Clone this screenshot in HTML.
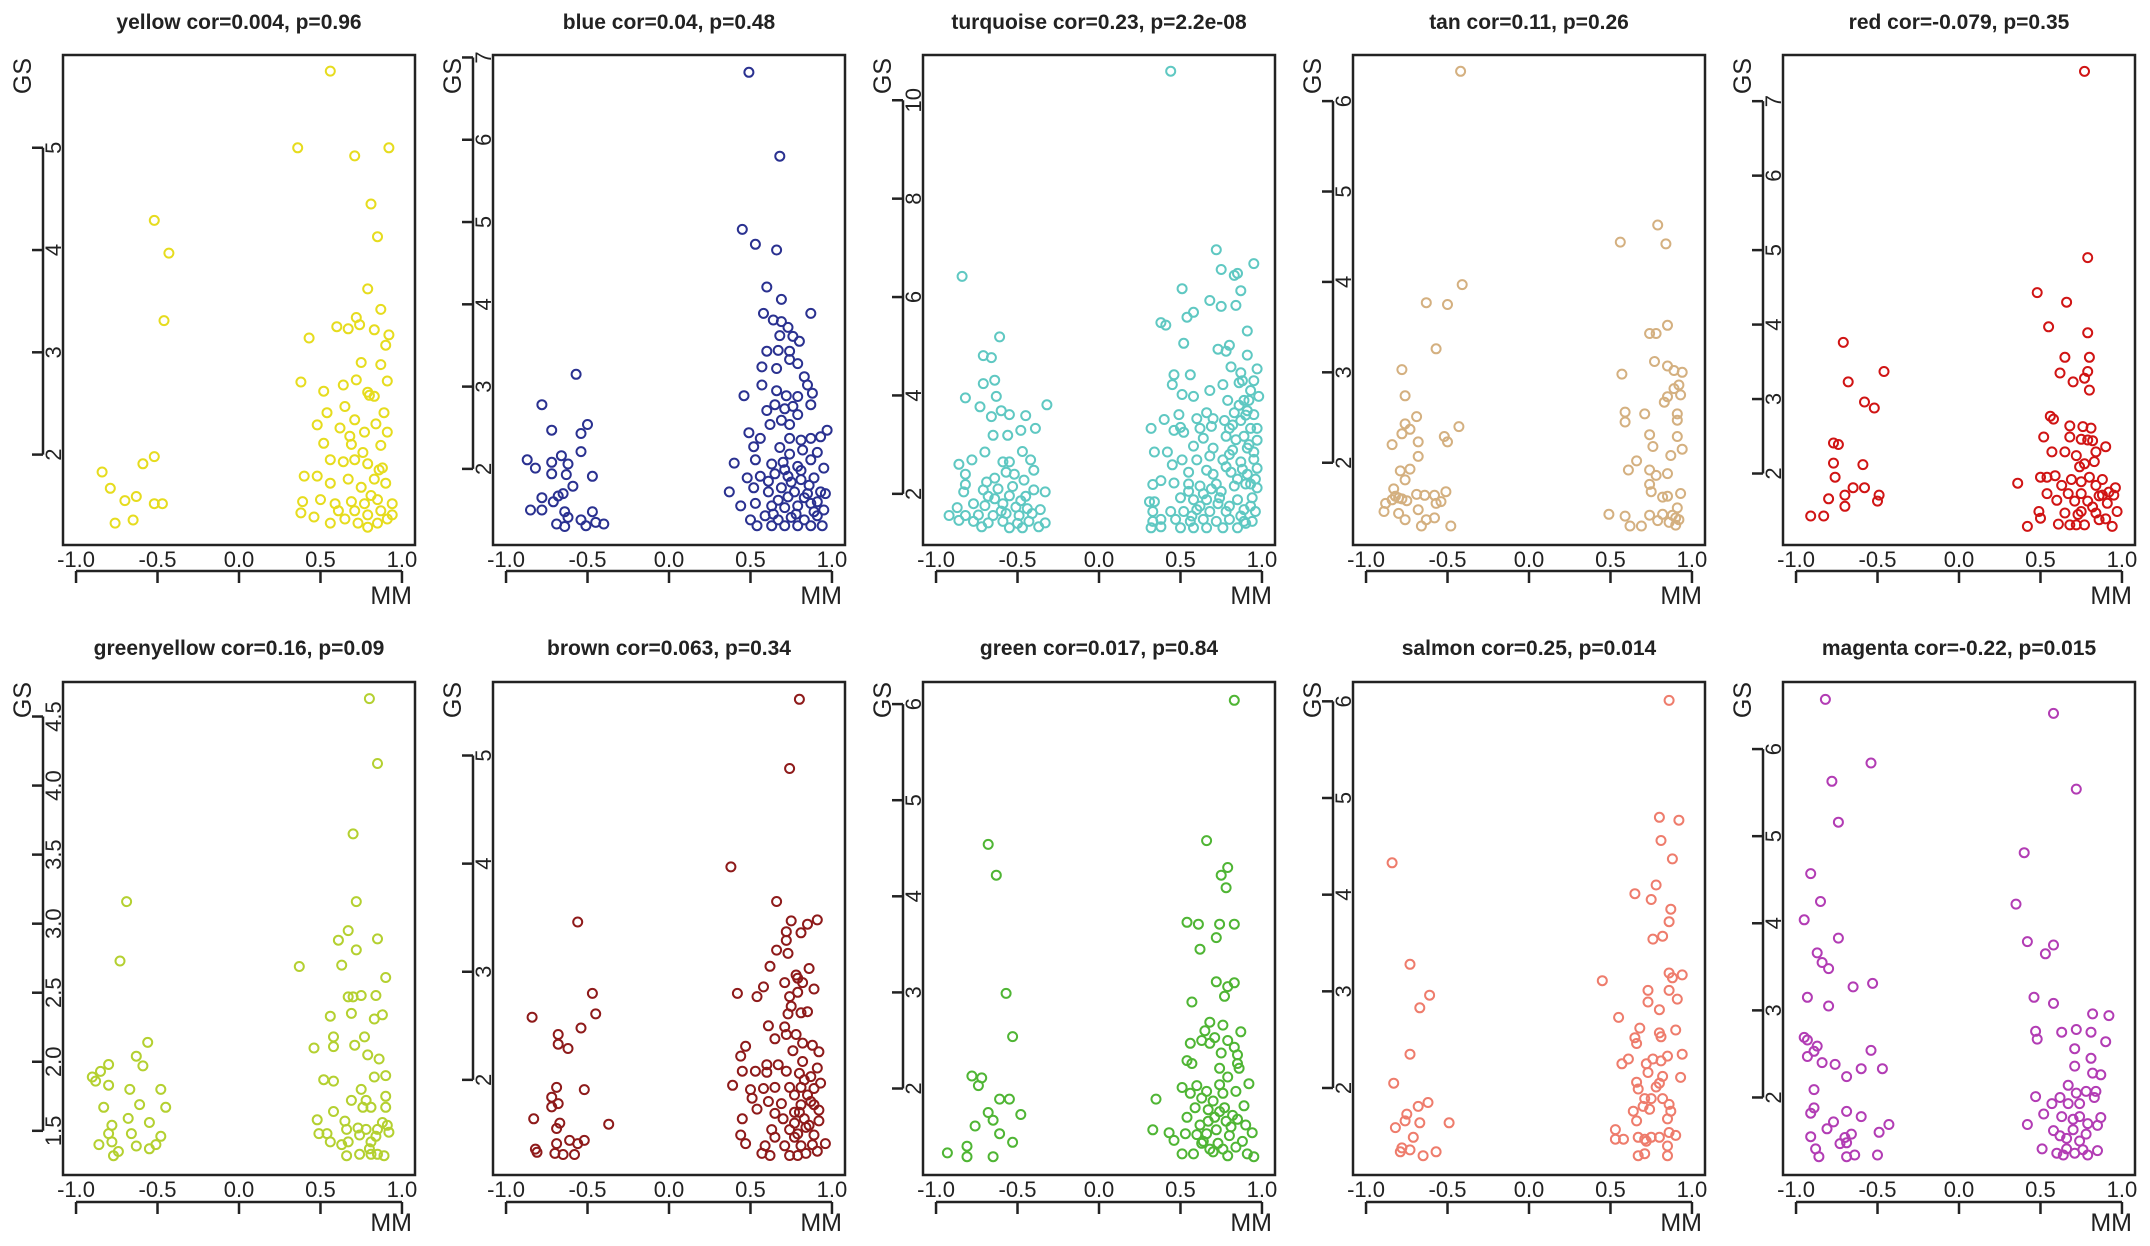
<!DOCTYPE html>
<html><head><meta charset="utf-8"><style>
html,body{margin:0;padding:0;background:#fff;}
svg{display:block;font-family:"Liberation Sans",Arial,sans-serif;}
</style></head><body>
<svg id="chart" width="2150" height="1246" viewBox="0 0 2150 1246" xmlns="http://www.w3.org/2000/svg"></svg>
<script>
// ---- data ----
const panelNames = ["yellow","blue","turquoise","tan","red","greenyellow","brown","green","salmon","magenta"];
const panelTitles = ["yellow cor=0.004, p=0.96","blue cor=0.04, p=0.48","turquoise cor=0.23, p=2.2e-08","tan cor=0.11, p=0.26","red cor=-0.079, p=0.35","greenyellow cor=0.16, p=0.09","brown cor=0.063, p=0.34","green cor=0.017, p=0.84","salmon cor=0.25, p=0.014","magenta cor=-0.22, p=0.015"];
const panelColors = ["#e6dc1e","#2a3190","#5fc8c2","#d4b080","#d01414","#b4d030","#8e1a1a","#4fb534","#ee7c6c","#b23cb4"];
const yLimits = [[1.116,5.907],[1.075,7.03],[0.96,10.92],[1.09,6.51],[1.04,7.62],[1.18,4.75],[1.12,5.68],[1.10,6.23],[1.10,6.2],[1.11,6.77]];
const yTicks = [[2,3,4,5],[2,3,4,5,6,7],[2,4,6,8,10],[2,3,4,5,6],[2,3,4,5,6,7],[1.5,2.0,2.5,3.0,3.5,4.0,4.5],[2,3,4,5],[2,3,4,5,6],[2,3,4,5,6],[2,3,4,5,6]];
const yTickLabels = [["2","3","4","5"],["2","3","4","5","6","7"],["2","4","6","8","10"],["2","3","4","5","6"],["2","3","4","5","6","7"],["1.5","2.0","2.5","3.0","3.5","4.0","4.5"],["2","3","4","5"],["2","3","4","5","6"],["2","3","4","5","6"],["2","3","4","5","6"]];
const xTicks = [-1,-0.5,0,0.5,1];
const xTickLabels = ["-1.0","-0.5","0.0","0.5","1.0"];

const yellowPts = [[0.56,5.75],[0.36,5.0],[0.71,4.92],[0.92,5.0],[0.81,4.45],[0.85,4.13],[0.79,3.62],[0.87,3.42],[-0.52,4.29],[-0.43,3.97],[-0.46,3.31],[0.6,3.25],[0.72,3.34],[0.74,3.27],[0.67,3.23],[0.83,3.22],[0.92,3.17],[0.43,3.14],[0.9,3.07],[0.75,2.9],[0.87,2.88],[0.38,2.71],[0.52,2.62],[0.64,2.68],[0.72,2.73],[0.79,2.61],[0.83,2.57],[0.91,2.72],[0.54,2.41],[0.65,2.47],[0.71,2.34],[0.89,2.41],[0.48,2.29],[0.62,2.26],[0.68,2.18],[0.77,2.22],[0.91,2.22],[0.52,2.11],[0.69,2.1],[0.87,2.09],[0.56,1.95],[0.64,1.93],[0.71,1.95],[0.79,1.91],[0.88,1.87],[0.4,1.79],[0.48,1.79],[0.56,1.72],[0.67,1.76],[0.75,1.68],[0.83,1.76],[0.9,1.72],[0.39,1.54],[0.5,1.56],[0.59,1.52],[0.69,1.54],[0.77,1.52],[0.85,1.56],[0.94,1.52],[0.38,1.43],[0.46,1.39],[0.56,1.33],[0.65,1.37],[0.73,1.33],[0.79,1.41],[0.85,1.33],[0.91,1.37],[0.94,1.41],[0.79,1.29],[0.71,1.45],[0.61,1.45],[0.87,1.45],[0.81,1.6],[0.86,1.85],[0.76,2.02],[0.84,2.3],[0.8,2.58],[-0.84,1.83],[-0.79,1.67],[-0.7,1.55],[-0.63,1.59],[-0.59,1.91],[-0.52,1.98],[-0.52,1.52],[-0.47,1.52],[-0.76,1.33],[-0.65,1.36]];
const bluePts = [[0.49,6.82],[0.68,5.8],[0.45,4.91],[0.53,4.73],[0.66,4.66],[0.6,4.21],[0.69,4.06],[0.58,3.89],[0.87,3.89],[0.64,3.81],[0.69,3.79],[0.73,3.72],[0.68,3.62],[0.76,3.61],[0.8,3.55],[0.6,3.43],[0.67,3.44],[0.74,3.43],[0.74,3.33],[0.79,3.28],[0.57,3.24],[0.66,3.22],[0.83,3.12],[0.57,3.02],[0.85,3.02],[0.46,2.89],[0.66,2.95],[0.72,2.89],[0.79,2.88],[0.88,2.92],[0.65,2.78],[0.71,2.73],[0.76,2.76],[0.87,2.78],[0.6,2.71],[0.79,2.66],[0.62,2.54],[0.69,2.59],[0.74,2.54],[0.49,2.44],[0.97,2.47],[0.56,2.37],[0.74,2.37],[0.81,2.35],[0.87,2.37],[0.93,2.39],[0.52,2.27],[0.68,2.26],[0.74,2.18],[0.82,2.23],[0.91,2.2],[0.4,2.07],[0.53,2.11],[0.63,2.06],[0.7,2.08],[0.79,2.03],[0.87,2.11],[0.95,2.01],[0.48,1.89],[0.56,1.91],[0.65,1.94],[0.73,1.91],[0.81,1.87],[0.89,1.89],[0.37,1.72],[0.52,1.77],[0.61,1.72],[0.69,1.77],[0.77,1.72],[0.85,1.7],[0.93,1.72],[0.96,1.7],[0.44,1.55],[0.53,1.58],[0.63,1.55],[0.71,1.53],[0.79,1.55],[0.87,1.58],[0.95,1.5],[0.5,1.38],[0.59,1.43],[0.67,1.38],[0.75,1.41],[0.83,1.38],[0.91,1.43],[0.54,1.31],[0.63,1.31],[0.71,1.31],[0.79,1.31],[0.87,1.31],[0.94,1.31],[0.67,1.62],[0.75,1.84],[0.83,1.65],[0.89,1.48],[0.71,1.99],[0.61,1.85],[0.78,1.45],[0.86,1.8],[0.64,1.45],[0.73,1.66],[0.81,1.98],[0.91,1.6],[-0.87,2.11],[-0.82,2.01],[-0.78,2.78],[-0.72,2.47],[-0.72,2.08],[-0.72,1.94],[-0.66,2.16],[-0.62,2.06],[-0.63,1.93],[-0.57,3.15],[-0.5,2.54],[-0.54,2.43],[-0.54,2.21],[-0.47,1.91],[-0.59,1.79],[-0.78,1.65],[-0.85,1.5],[-0.78,1.5],[-0.71,1.6],[-0.68,1.67],[-0.65,1.7],[-0.64,1.48],[-0.62,1.41],[-0.69,1.33],[-0.64,1.3],[-0.54,1.38],[-0.47,1.48],[-0.51,1.31],[-0.45,1.35],[-0.4,1.33]];
const turquoisePts = [[0.44,10.59],[-0.84,6.42],[0.72,6.96],[0.95,6.68],[0.75,6.56],[0.83,6.44],[0.85,6.48],[0.51,6.17],[0.87,6.13],[0.68,5.93],[0.75,5.81],[0.84,5.83],[0.58,5.69],[0.54,5.59],[0.38,5.48],[0.41,5.43],[0.91,5.31],[0.52,5.06],[0.73,4.94],[0.8,5.02],[0.78,4.9],[0.91,4.82],[0.81,4.58],[0.46,4.42],[0.56,4.42],[0.87,4.46],[0.97,4.54],[0.95,4.3],[0.45,4.22],[0.76,4.22],[0.86,4.26],[0.51,4.02],[0.58,3.98],[0.68,4.1],[0.98,3.98],[0.79,3.9],[0.89,3.9],[0.66,3.65],[0.83,3.65],[0.91,3.69],[0.95,3.61],[0.49,3.61],[0.6,3.53],[0.7,3.53],[0.77,3.49],[0.87,3.49],[0.32,3.33],[0.4,3.51],[0.5,3.35],[0.62,3.33],[0.69,3.37],[0.8,3.33],[0.93,3.33],[0.97,3.33],[0.46,3.29],[0.52,3.25],[0.78,3.17],[0.89,3.17],[0.64,3.13],[0.97,3.09],[0.34,2.85],[0.42,2.85],[0.58,2.97],[0.7,2.93],[0.82,2.89],[0.91,2.93],[0.95,2.85],[0.51,2.69],[0.6,2.69],[0.68,2.77],[0.76,2.69],[0.87,2.65],[0.97,2.52],[0.45,2.59],[0.55,2.44],[0.66,2.48],[0.81,2.44],[0.91,2.4],[0.33,2.19],[0.38,2.27],[0.46,2.22],[0.55,2.2],[0.62,2.16],[0.72,2.2],[0.83,2.16],[0.93,2.2],[0.97,2.12],[0.31,1.84],[0.34,1.84],[0.5,1.92],[0.58,1.88],[0.66,1.88],[0.74,1.92],[0.85,1.88],[0.94,1.92],[0.33,1.64],[0.44,1.64],[0.52,1.64],[0.6,1.68],[0.68,1.64],[0.78,1.64],[0.89,1.68],[0.96,1.64],[0.33,1.44],[0.38,1.48],[0.47,1.48],[0.56,1.44],[0.64,1.48],[0.72,1.44],[0.8,1.48],[0.89,1.44],[0.94,1.44],[0.32,1.31],[0.38,1.33],[0.5,1.31],[0.58,1.31],[0.66,1.31],[0.76,1.31],[0.85,1.31],[0.9,3.6],[0.92,3.0],[0.88,2.5],[0.93,4.1],[0.86,3.8],[0.84,3.1],[0.9,2.2],[0.93,1.75],[0.87,1.55],[0.8,1.75],[0.75,2.05],[0.7,2.4],[0.64,2.0],[0.57,1.55],[0.8,2.8],[0.85,2.3],[0.95,2.7],[0.92,3.9],[0.88,4.3],[0.82,3.4],[0.78,2.55],[0.73,1.8],[0.69,2.1],[0.62,1.75],[0.55,2.05],[0.96,2.3],[0.9,1.4],[-0.61,5.19],[-0.71,4.81],[-0.66,4.77],[-0.64,4.31],[-0.71,4.24],[-0.82,3.95],[-0.63,3.98],[-0.73,3.77],[-0.32,3.81],[-0.6,3.69],[-0.55,3.61],[-0.45,3.59],[-0.66,3.57],[-0.39,3.33],[-0.48,3.29],[-0.65,3.19],[-0.56,3.19],[-0.7,2.85],[-0.47,2.86],[-0.86,2.6],[-0.78,2.69],[-0.59,2.65],[-0.55,2.65],[-0.42,2.69],[-0.4,2.48],[-0.82,2.4],[-0.57,2.44],[-0.46,2.28],[-0.82,2.19],[-0.69,2.24],[-0.64,2.32],[-0.71,2.08],[-0.83,2.04],[-0.4,2.08],[-0.33,2.04],[-0.55,1.96],[-0.64,1.9],[-0.48,1.86],[-0.77,1.8],[-0.7,1.76],[-0.59,1.8],[-0.51,1.73],[-0.87,1.72],[-0.36,1.68],[-0.92,1.56],[-0.82,1.56],[-0.74,1.57],[-0.65,1.56],[-0.57,1.6],[-0.49,1.56],[-0.41,1.6],[-0.86,1.46],[-0.77,1.44],[-0.68,1.41],[-0.59,1.44],[-0.5,1.4],[-0.43,1.44],[-0.33,1.41],[-0.72,1.33],[-0.55,1.31],[-0.47,1.31],[-0.37,1.33],[-0.62,2.1],[-0.53,2.15],[-0.45,1.95],[-0.6,1.65],[-0.68,1.95],[-0.52,2.4],[-0.44,1.7]];
const tanPts = [[-0.42,6.33],[0.56,4.44],[0.79,4.63],[0.84,4.42],[-0.41,3.97],[-0.63,3.77],[-0.5,3.75],[0.85,3.52],[0.74,3.43],[0.78,3.43],[-0.57,3.26],[-0.78,3.03],[0.77,3.12],[0.85,3.07],[0.57,2.98],[0.89,3.02],[0.94,3.0],[-0.76,2.74],[0.92,2.86],[0.89,2.82],[0.93,2.75],[0.85,2.73],[0.83,2.67],[0.59,2.56],[0.71,2.54],[0.59,2.45],[0.91,2.54],[0.91,2.47],[-0.69,2.51],[-0.76,2.43],[-0.73,2.37],[-0.43,2.4],[-0.78,2.32],[-0.52,2.29],[-0.5,2.23],[-0.68,2.23],[-0.84,2.2],[0.74,2.31],[0.91,2.29],[0.76,2.18],[0.94,2.15],[0.87,2.08],[-0.68,2.07],[0.66,2.02],[0.61,1.92],[0.74,1.92],[0.78,1.86],[0.85,1.88],[-0.73,1.93],[-0.79,1.91],[-0.76,1.81],[-0.83,1.71],[0.74,1.76],[0.75,1.68],[0.82,1.62],[0.85,1.63],[0.93,1.66],[-0.69,1.65],[-0.64,1.64],[-0.58,1.64],[-0.51,1.68],[-0.54,1.57],[-0.57,1.55],[-0.75,1.58],[-0.8,1.61],[-0.84,1.59],[-0.88,1.55],[-0.89,1.46],[-0.68,1.48],[-0.8,1.44],[-0.76,1.37],[-0.63,1.37],[-0.58,1.39],[-0.66,1.3],[-0.48,1.3],[0.49,1.43],[0.59,1.41],[0.62,1.3],[0.69,1.3],[0.74,1.42],[0.79,1.36],[0.82,1.43],[0.86,1.34],[0.9,1.39],[0.91,1.5],[0.9,1.31],[0.88,1.42],[0.92,1.37],[-0.82,1.63],[-0.78,1.6]];
const redPts = [[0.77,7.4],[0.79,4.9],[0.48,4.43],[0.66,4.3],[0.55,3.97],[0.79,3.89],[-0.71,3.76],[0.65,3.56],[0.8,3.56],[-0.46,3.37],[0.62,3.35],[0.79,3.37],[0.77,3.28],[-0.68,3.23],[0.7,3.23],[0.8,3.12],[-0.58,2.96],[-0.52,2.88],[0.56,2.77],[0.58,2.73],[0.68,2.64],[0.76,2.63],[0.81,2.61],[0.52,2.49],[0.68,2.49],[0.75,2.46],[0.79,2.45],[0.82,2.44],[-0.77,2.41],[-0.74,2.39],[0.57,2.29],[0.65,2.29],[0.72,2.24],[0.84,2.29],[0.9,2.36],[0.77,2.13],[-0.77,2.14],[-0.59,2.12],[0.74,2.09],[0.83,2.16],[-0.76,1.95],[0.5,1.95],[0.54,1.95],[0.59,1.97],[0.69,1.92],[0.75,1.89],[0.88,1.92],[0.36,1.87],[0.63,1.84],[0.84,1.84],[0.96,1.81],[-0.65,1.81],[-0.58,1.81],[0.54,1.73],[0.67,1.73],[0.75,1.73],[0.88,1.71],[0.95,1.71],[-0.7,1.71],[-0.49,1.71],[-0.8,1.66],[0.6,1.64],[0.71,1.63],[0.79,1.63],[0.91,1.6],[-0.5,1.63],[-0.7,1.56],[0.49,1.49],[0.65,1.47],[0.75,1.49],[0.84,1.47],[0.97,1.49],[-0.91,1.43],[-0.83,1.43],[0.5,1.4],[0.61,1.32],[0.68,1.31],[0.72,1.31],[0.77,1.31],[0.94,1.29],[0.42,1.29],[0.86,1.38],[0.9,1.39],[0.82,1.55],[0.73,1.45],[0.86,1.7],[0.8,1.95],[0.92,1.75]];
const greenyellowPts = [[0.8,4.63],[0.85,4.16],[0.7,3.65],[0.72,3.16],[-0.69,3.16],[-0.73,2.73],[0.67,2.95],[0.61,2.88],[0.85,2.89],[0.72,2.81],[0.63,2.7],[0.37,2.69],[0.9,2.61],[0.67,2.47],[0.7,2.47],[0.75,2.48],[0.84,2.48],[0.56,2.33],[0.69,2.35],[0.83,2.31],[0.88,2.34],[0.58,2.18],[0.77,2.18],[-0.56,2.14],[0.58,2.11],[0.46,2.1],[0.71,2.12],[-0.63,2.04],[0.79,2.05],[0.86,2.02],[-0.59,1.97],[-0.8,1.98],[-0.85,1.93],[-0.9,1.89],[-0.88,1.86],[-0.8,1.83],[0.52,1.87],[0.58,1.86],[0.83,1.89],[0.9,1.9],[-0.67,1.8],[-0.48,1.8],[0.75,1.8],[0.69,1.72],[0.78,1.72],[0.9,1.75],[-0.61,1.69],[-0.83,1.67],[-0.45,1.67],[0.76,1.67],[0.81,1.67],[0.9,1.67],[0.58,1.64],[-0.68,1.59],[-0.55,1.56],[-0.78,1.54],[0.48,1.58],[0.65,1.57],[0.73,1.52],[0.78,1.51],[0.85,1.51],[0.88,1.56],[0.91,1.54],[-0.8,1.48],[-0.66,1.48],[-0.48,1.46],[0.49,1.48],[0.54,1.48],[0.66,1.51],[0.92,1.49],[0.74,1.47],[0.84,1.46],[-0.86,1.4],[-0.78,1.42],[-0.63,1.39],[-0.55,1.37],[-0.51,1.4],[0.56,1.42],[0.63,1.4],[0.67,1.42],[0.81,1.42],[-0.77,1.32],[-0.74,1.35],[0.66,1.32],[0.74,1.33],[0.81,1.33],[0.85,1.33],[0.89,1.32],[0.8,1.37]];
const brownPts = [[0.8,5.52],[0.74,4.88],[0.38,3.97],[0.66,3.65],[-0.56,3.46],[0.75,3.47],[0.85,3.44],[0.91,3.48],[0.72,3.37],[0.81,3.36],[0.72,3.29],[0.66,3.2],[0.73,3.17],[0.62,3.05],[0.86,3.03],[0.78,2.97],[0.79,2.94],[0.71,2.9],[0.82,2.9],[0.58,2.86],[0.89,2.84],[0.42,2.8],[-0.47,2.8],[0.54,2.77],[0.74,2.77],[0.79,2.81],[0.75,2.68],[0.73,2.61],[0.81,2.62],[0.85,2.63],[-0.45,2.61],[-0.84,2.58],[0.61,2.5],[-0.54,2.48],[0.71,2.49],[0.65,2.38],[0.72,2.42],[0.78,2.42],[-0.68,2.42],[-0.68,2.33],[-0.62,2.29],[0.47,2.31],[0.82,2.34],[0.88,2.32],[0.76,2.27],[0.44,2.22],[0.92,2.26],[0.6,2.14],[0.67,2.14],[0.82,2.17],[0.45,2.08],[0.53,2.08],[0.6,2.07],[0.72,2.08],[0.8,2.06],[0.91,2.11],[0.87,2.03],[0.39,1.95],[0.93,1.97],[-0.69,1.93],[-0.52,1.91],[0.58,1.92],[0.65,1.93],[0.74,1.93],[0.81,1.93],[0.89,1.92],[0.5,1.91],[0.77,1.86],[0.85,1.86],[-0.72,1.84],[0.51,1.83],[0.61,1.8],[0.69,1.78],[0.81,1.77],[0.89,1.77],[-0.68,1.78],[-0.72,1.75],[0.54,1.73],[0.65,1.69],[0.77,1.7],[0.92,1.72],[-0.83,1.64],[0.45,1.64],[0.7,1.64],[0.83,1.64],[0.92,1.62],[-0.67,1.6],[-0.37,1.59],[-0.69,1.55],[0.63,1.54],[0.74,1.54],[0.84,1.56],[0.44,1.49],[0.65,1.47],[0.77,1.47],[0.89,1.49],[-0.61,1.44],[-0.52,1.44],[-0.56,1.41],[-0.69,1.41],[0.47,1.41],[0.59,1.39],[0.71,1.39],[0.81,1.39],[0.96,1.41],[-0.82,1.36],[-0.81,1.33],[-0.7,1.32],[-0.65,1.31],[-0.58,1.31],[0.57,1.32],[0.62,1.3],[0.74,1.3],[0.84,1.32],[0.91,1.34],[0.79,1.5],[0.86,1.58],[0.8,1.7],[0.87,1.8],[0.83,2.0],[0.77,1.6],[0.88,1.4],[0.79,1.3]];
const greenPts = [[0.83,6.04],[0.66,4.58],[-0.68,4.54],[-0.63,4.22],[0.79,4.3],[0.75,4.22],[0.78,4.09],[0.54,3.73],[0.61,3.71],[0.74,3.71],[0.83,3.71],[0.72,3.57],[0.62,3.45],[0.72,3.11],[0.83,3.1],[0.79,3.06],[0.77,2.96],[-0.57,2.99],[0.57,2.9],[0.68,2.69],[0.76,2.66],[0.87,2.59],[0.65,2.6],[-0.53,2.54],[0.71,2.53],[0.63,2.5],[0.79,2.5],[0.56,2.47],[0.68,2.47],[0.83,2.43],[0.75,2.37],[0.85,2.35],[0.54,2.29],[0.57,2.26],[0.85,2.26],[0.74,2.21],[0.86,2.21],[-0.78,2.13],[-0.72,2.11],[-0.74,2.03],[0.79,2.12],[0.74,2.04],[0.92,2.05],[0.51,2.01],[0.6,2.03],[0.84,1.97],[0.56,1.95],[0.66,1.97],[0.76,1.95],[0.35,1.89],[-0.61,1.89],[-0.55,1.89],[0.63,1.9],[0.7,1.87],[0.89,1.82],[0.59,1.8],[0.67,1.78],[-0.68,1.75],[-0.48,1.73],[0.74,1.76],[0.82,1.72],[0.54,1.7],[-0.65,1.67],[0.67,1.66],[0.78,1.66],[0.85,1.68],[-0.76,1.61],[0.62,1.62],[0.9,1.62],[0.72,1.57],[0.33,1.57],[0.43,1.54],[0.53,1.53],[0.6,1.52],[0.66,1.53],[0.8,1.51],[0.94,1.54],[-0.61,1.53],[0.46,1.46],[0.63,1.43],[0.73,1.43],[0.88,1.45],[-0.53,1.44],[-0.81,1.4],[0.68,1.37],[0.76,1.37],[0.84,1.39],[-0.93,1.33],[-0.81,1.29],[-0.65,1.29],[0.51,1.32],[0.58,1.32],[0.7,1.34],[0.79,1.3],[0.91,1.32],[0.95,1.29],[0.77,1.8],[0.81,1.6],[0.71,1.7],[0.64,1.45]];
const salmonPts = [[0.86,6.01],[0.8,4.8],[0.92,4.77],[0.81,4.56],[0.88,4.37],[-0.84,4.33],[0.78,4.1],[0.65,4.01],[0.75,3.95],[0.87,3.85],[0.86,3.72],[0.82,3.57],[0.76,3.54],[-0.73,3.28],[0.86,3.19],[0.88,3.14],[0.94,3.17],[0.45,3.11],[-0.61,2.96],[0.73,3.01],[0.86,3.01],[0.91,2.92],[0.73,2.89],[-0.67,2.83],[0.8,2.81],[0.55,2.73],[0.68,2.62],[0.9,2.6],[0.8,2.57],[0.81,2.53],[0.65,2.52],[0.66,2.46],[-0.73,2.35],[0.94,2.35],[0.85,2.33],[0.76,2.3],[0.81,2.28],[0.61,2.3],[0.57,2.25],[0.72,2.25],[0.73,2.16],[0.82,2.12],[0.93,2.11],[0.66,2.06],[0.8,2.05],[-0.83,2.05],[0.67,1.99],[0.78,2.01],[0.71,1.89],[0.75,1.89],[0.82,1.89],[-0.62,1.85],[-0.68,1.81],[0.7,1.81],[0.74,1.78],[0.86,1.83],[0.64,1.76],[0.87,1.76],[-0.75,1.73],[-0.76,1.66],[0.85,1.68],[0.66,1.66],[-0.67,1.64],[-0.49,1.64],[-0.82,1.59],[0.53,1.57],[0.86,1.54],[0.9,1.51],[-0.71,1.49],[0.53,1.47],[0.58,1.47],[0.67,1.49],[0.71,1.47],[0.75,1.49],[0.8,1.49],[-0.78,1.38],[-0.73,1.36],[-0.79,1.34],[-0.57,1.34],[0.85,1.4],[-0.65,1.3],[0.67,1.3],[0.71,1.32],[0.85,1.3],[0.72,1.45]];
const magentaPts = [[-0.82,6.57],[0.58,6.41],[-0.54,5.84],[-0.78,5.63],[0.72,5.54],[-0.74,5.16],[0.4,4.81],[-0.91,4.57],[-0.85,4.25],[0.35,4.22],[-0.95,4.04],[-0.74,3.83],[0.42,3.79],[0.58,3.75],[0.53,3.65],[-0.87,3.66],[-0.84,3.55],[-0.8,3.48],[-0.53,3.31],[-0.65,3.27],[-0.93,3.15],[0.46,3.15],[-0.8,3.05],[0.58,3.08],[0.82,2.96],[0.92,2.94],[-0.95,2.69],[-0.93,2.66],[-0.87,2.59],[0.47,2.76],[0.48,2.67],[0.63,2.75],[0.72,2.78],[0.81,2.75],[0.9,2.64],[-0.54,2.54],[-0.89,2.53],[-0.93,2.47],[0.71,2.56],[0.81,2.45],[-0.84,2.4],[-0.76,2.38],[0.71,2.36],[-0.6,2.33],[-0.47,2.33],[-0.69,2.24],[0.82,2.28],[0.87,2.26],[-0.89,2.09],[0.67,2.14],[0.72,2.05],[0.78,2.07],[0.84,2.07],[0.47,2.01],[0.62,2.0],[0.57,1.93],[0.67,1.93],[0.74,1.93],[0.83,2.0],[-0.89,1.88],[-0.91,1.82],[-0.69,1.84],[0.52,1.81],[0.63,1.78],[0.7,1.75],[0.74,1.78],[-0.6,1.78],[0.87,1.77],[-0.77,1.72],[-0.43,1.69],[0.42,1.69],[0.79,1.7],[0.85,1.68],[-0.81,1.64],[0.58,1.62],[0.7,1.63],[-0.49,1.6],[-0.66,1.58],[0.62,1.56],[0.78,1.58],[-0.91,1.55],[-0.7,1.54],[0.66,1.53],[-0.73,1.47],[-0.69,1.48],[0.74,1.5],[-0.88,1.41],[0.51,1.41],[0.66,1.41],[0.76,1.4],[0.85,1.39],[-0.86,1.32],[-0.69,1.32],[-0.64,1.34],[-0.5,1.34],[0.6,1.36],[0.64,1.34],[0.71,1.36],[0.79,1.34]];
const panelPoints = [yellowPts,bluePts,turquoisePts,tanPts,redPts,greenyellowPts,brownPts,greenPts,salmonPts,magentaPts];

// ---- layout ----
const svg = document.getElementById('chart');
const NS = 'http://www.w3.org/2000/svg';
const COLW = 430;
const rows = [
  {boxT:55, boxB:545, title:22, axisY:571, tickLab:559, mm:595, gs:76},
  {boxT:682, boxB:1175, title:648, axisY:1202, tickLab:1189, mm:1222, gs:700}
];
const BOXL = 63, BOXR = 415;
const XMIN = -1.08, XMAX = 1.08;
function mk(tag, attrs, parent){
  const e = document.createElementNS(NS, tag);
  for (const k in attrs) e.setAttribute(k, attrs[k]);
  (parent||svg).appendChild(e);
  return e;
}

panelNames.forEach((name, i) => {
  const col = i % 5, row = rows[Math.floor(i/5)];
  const ox = col * COLW;
  const ylim = yLimits[i];
  const xs = v => ox + BOXL + (v - XMIN) / (XMAX - XMIN) * (BOXR - BOXL);
  const ys = v => row.boxB - (v - ylim[0]) / (ylim[1] - ylim[0]) * (row.boxB - row.boxT);

  const g = mk('g', {});
  
  

  const title = mk('text', {x: ox + 239, y: row.title + 7, 'text-anchor':'middle', 'font-size':'21', 'font-weight':'bold', fill:'#222'}, g);
  title.textContent = panelTitles[i];
  
  

  const box = mk('rect', {x: ox + BOXL, y: row.boxT, width: BOXR - BOXL, height: row.boxB - row.boxT, fill:'none', stroke:'#222', 'stroke-width':'2.5'}, g);
  
  

  const pg = mk('g', {fill:'none', stroke: panelColors[i], 'stroke-width':'2'}, g);
  
  
  panelPoints[i].forEach(p => {
    const c = mk('circle', {cx: xs(p[0]).toFixed(1), cy: ys(p[1]).toFixed(1), r: 4.5}, pg);
    
    
  });

  const xa = mk('g', {stroke:'#222', 'stroke-width':'2.5'}, g);
  
  
  mk('line', {x1: xs(xTicks[0]), x2: xs(xTicks[xTicks.length-1]), y1: row.axisY, y2: row.axisY}, xa);
  xTicks.forEach((t, k) => {
    mk('line', {x1: xs(t), x2: xs(t), y1: row.axisY, y2: row.axisY + 12}, xa);
    const lab = mk('text', {x: xs(t), y: row.tickLab + 8, 'text-anchor':'middle', 'font-size':'22', fill:'#222', stroke:'none'}, g);
    lab.textContent = xTickLabels[k];
    
    
  });
  const mm = mk('text', {x: ox + 412, y: row.mm + 9, 'text-anchor':'end', 'font-size':'25', fill:'#222'}, g);
  mm.textContent = 'MM';
  
  

  const ya = mk('g', {stroke:'#222', 'stroke-width':'2.5'}, g);
  
  
  const tks = yTicks[i];
  mk('line', {x1: ox + 43, x2: ox + 43, y1: ys(tks[0]), y2: ys(tks[tks.length-1])}, ya);
  tks.forEach((t, k) => {
    const y = ys(t);
    mk('line', {x1: ox + 32, x2: ox + 43, y1: y, y2: y}, ya);
    const lab = mk('text', {x: 0, y: 0, 'text-anchor':'middle', 'font-size':'22', fill:'#222', stroke:'none', transform: 'translate(' + (ox + 61) + ',' + y + ') rotate(-90)'}, g);
    lab.textContent = yTickLabels[i][k];
    
    
  });
  const gs = mk('text', {x: 0, y: 0, 'text-anchor':'middle', 'font-size':'25', fill:'#222', transform: 'translate(' + (ox + 31) + ',' + row.gs + ') rotate(-90)'}, g);
  gs.textContent = 'GS';
  
  
});
</script>
</body></html>
